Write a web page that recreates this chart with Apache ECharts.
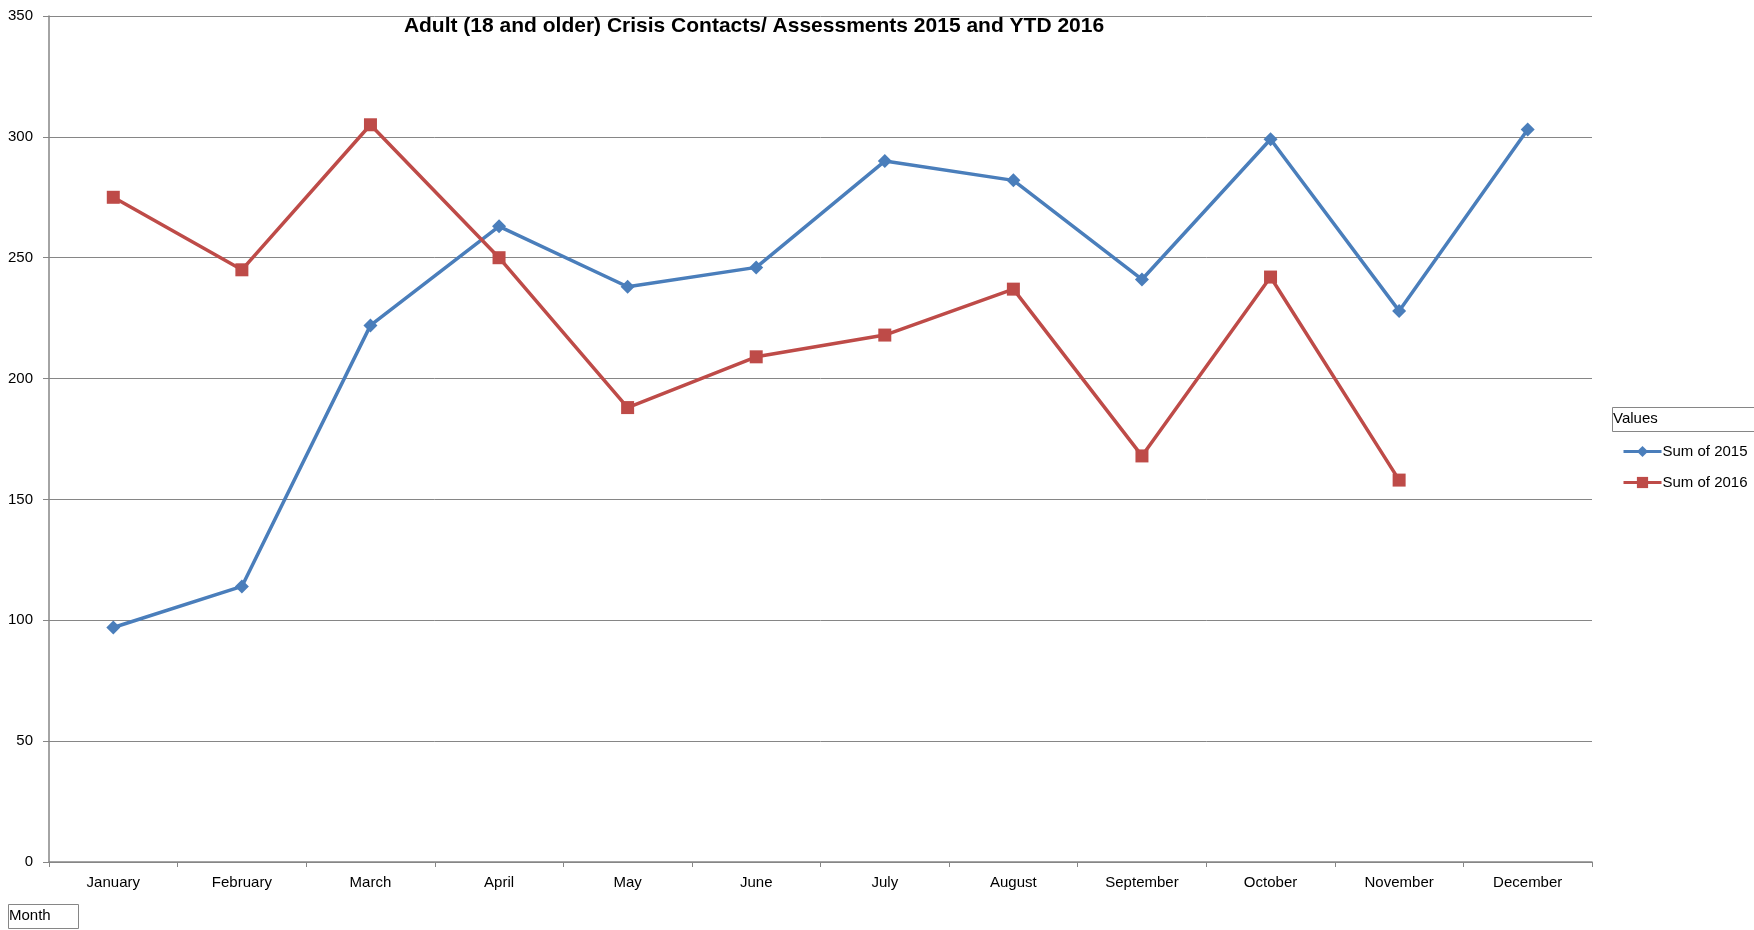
<!DOCTYPE html>
<html>
<head>
    <meta charset="utf-8"/>
    <script src="https://cdn.jsdelivr.net/npm/echarts@6/dist/echarts.min.js"></script>
    <style>
        html, body { margin: 0; padding: 0; background: #fff; }
        #chart { width: 1754px; height: 930px; }
    </style>
</head>
<body>
<div id="chart"></div>
<script>
    // 数据
    var months = ['January', 'February', 'March', 'April', 'May', 'June',
        'July', 'August', 'September', 'October', 'November', 'December'];
    var sum2015 = [97, 114, 222, 263, 238, 246, 290, 282, 241, 299, 228, 303];
    var sum2016 = [275, 245, 305, 250, 188, 209, 218, 237, 168, 242, 158, null];
    var yTicks = [0, 50, 100, 150, 200, 250, 300, 350];

    var font = '"Liberation Sans", Arial, sans-serif';
    var chart = echarts.init(document.getElementById('chart'));

    chart.setOption({
        animation: false,
        title: {
            text: 'Adult (18 and older) Crisis Contacts/ Assessments 2015 and YTD 2016',
            left: 749,
            textAlign: 'center',
            top: 11,
            textStyle: {
                fontFamily: font,
                fontWeight: 'bold',
                fontSize: 21,
                color: '#000'
            }
        },
        legend: {
            orient: 'vertical',
            left: 1617,
            top: 439,
            itemWidth: 38,
            itemHeight: 14,
            itemGap: 16,
            lineStyle: { width: 3 },
            textStyle: { fontFamily: font, fontSize: 15, color: '#000', padding: [0, 0, 0, -4] },
            data: ['Sum of 2015', 'Sum of 2016']
        },
        grid: { left: 49, right: 162, top: 16, bottom: 68 },
        xAxis: {
            type: 'category',
            data: months,
            boundaryGap: true,
            axisLine: { lineStyle: { color: '#868686', width: 1.5 } },
            axisTick: { show: true, length: 5, lineStyle: { color: '#868686' } },
            axisLabel: { fontFamily: font, fontSize: 15, color: '#000', margin: 13 }
        },
        yAxis: {
            type: 'value',
            min: yTicks[0],
            max: yTicks[yTicks.length - 1],
            interval: 50,
            axisLine: { show: true, lineStyle: { color: '#868686', width: 1.5 } },
            axisTick: { show: true, length: 6, lineStyle: { color: '#868686' } },
            axisLabel: { fontFamily: font, fontSize: 15, color: '#000', margin: 16 },
            splitLine: { lineStyle: { color: '#868686', width: 1 } }
        },
        series: [
            {
                name: 'Sum of 2015',
                type: 'line',
                data: sum2015,
                symbol: 'diamond',
                symbolSize: 14,
                lineStyle: { color: '#4A7EBB', width: 3.5 },
                itemStyle: { color: '#4A7EBB' }
            },
            {
                name: 'Sum of 2016',
                type: 'line',
                data: sum2016,
                symbol: 'rect',
                symbolSize: 13,
                lineStyle: { color: '#BE4B48', width: 3.5 },
                itemStyle: { color: '#BE4B48' }
            }
        ],
        graphic: [
            {
                type: 'rect',
                shape: { x: 1612.5, y: 407.5, width: 150, height: 24 },
                style: { fill: '#fff', stroke: '#868686', lineWidth: 1 }
            },
            {
                type: 'text',
                x: 1613, y: 411,
                style: { text: 'Values', font: '15px ' + font, fill: '#000' }
            },
            {
                type: 'rect',
                shape: { x: 8.5, y: 904.5, width: 70, height: 24 },
                style: { fill: '#fff', stroke: '#868686', lineWidth: 1 }
            },
            {
                type: 'text',
                x: 9, y: 908,
                style: { text: 'Month', font: '15px ' + font, fill: '#000' }
            }
        ]
    });
</script>
</body>
</html>
